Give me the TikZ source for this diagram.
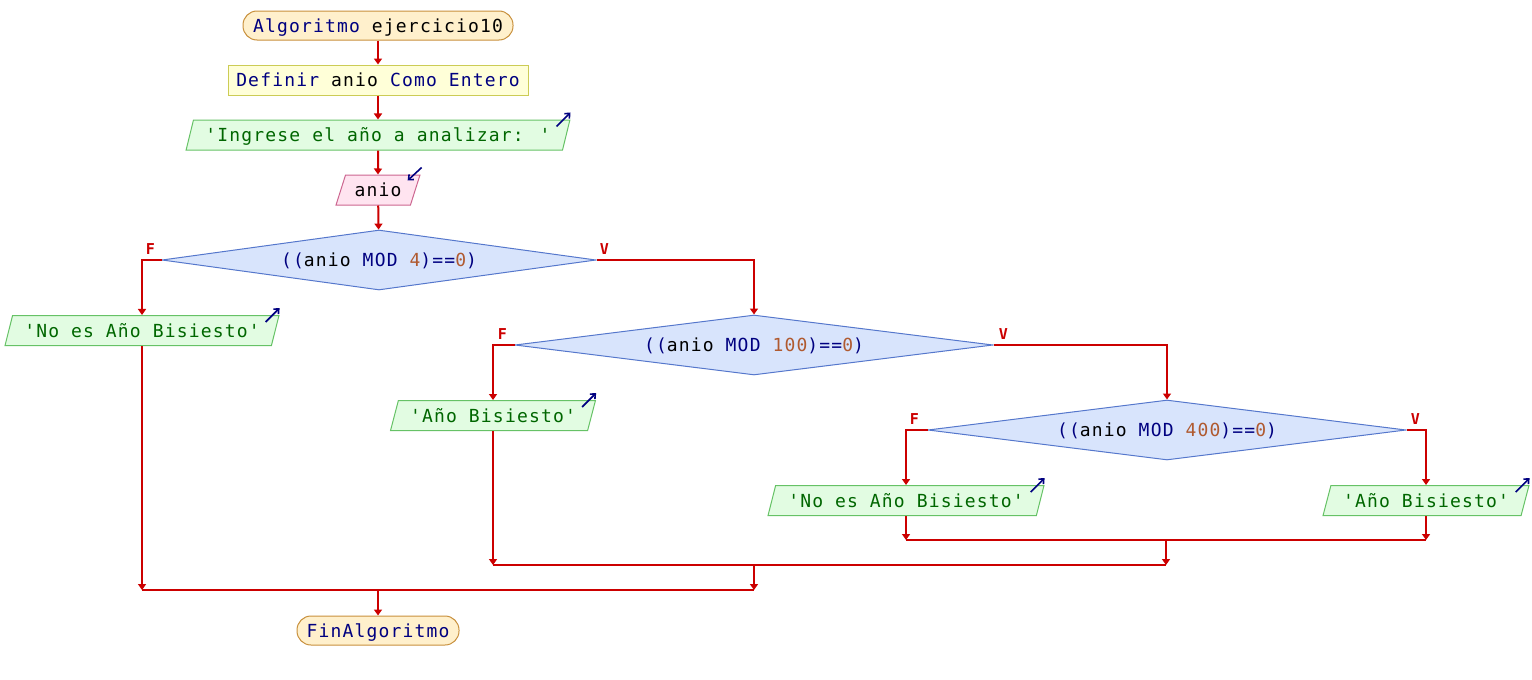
\documentclass[tikz,border=0pt]{standalone}
\usepackage{fontspec}
\usetikzlibrary{shapes.geometric,arrows.meta}
\newfontfamily\codefont[LetterSpace=6.5]{DejaVu Sans Mono}
\newfontfamily\tagfont{DejaVu Sans Mono}

\definecolor{kwblue}{HTML}{000080}
\definecolor{strgreen}{HTML}{006600}
\definecolor{numbrown}{HTML}{B05A30}
\definecolor{flowred}{HTML}{CC0000}
\definecolor{termfill}{HTML}{FFF0CC}
\definecolor{termdraw}{HTML}{C8903C}
\definecolor{deffill}{HTML}{FFFFD8}
\definecolor{defdraw}{HTML}{CCCC55}
\definecolor{outfill}{HTML}{E2FCE2}
\definecolor{outdraw}{HTML}{66C266}
\definecolor{infill}{HTML}{FFE4F0}
\definecolor{indraw}{HTML}{CC6690}
\definecolor{decfill}{HTML}{D8E4FC}
\definecolor{decdraw}{HTML}{5577CC}

\newcommand\kw[1]{\textcolor{kwblue}{#1}}
\newcommand\strtxt[1]{\textcolor{strgreen}{#1}}
\newcommand\numtxt[1]{\textcolor{numbrown}{#1}}

\tikzset{
  base/.style={font=\codefont\fontsize{18}{20}\selectfont, inner sep=0pt, line width=1pt,
    text height=15pt, text depth=2pt},
  term/.style={base, draw=termdraw, fill=termfill, rounded corners=14pt, minimum height=29pt},
  defbox/.style={base, draw=defdraw, fill=deffill, minimum height=30pt},
  io/.style={base, trapezium, trapezium left angle=68, trapezium right angle=112,
    trapezium stretches=true, minimum height=30pt},
  outbox/.style={io, draw=outdraw, fill=outfill},
  inbox/.style={io, draw=indraw, fill=infill},
  dec/.style={base, diamond, aspect=8, draw=decdraw, fill=decfill, minimum height=60pt},
  flow/.style={draw=flowred, line width=2pt, -{Triangle[width=8pt,length=6pt]}},
  mergeline/.style={draw=flowred, line width=2pt},
  tag/.style={text=flowred, font=\tagfont\bfseries\fontsize{15}{15}\selectfont, inner sep=0pt},
  icon/.style={draw=kwblue, line width=1.6pt, -{Straight Barb[width=7pt,length=4pt]}},
}

\begin{document}
\begin{tikzpicture}[x=1pt, y=-1pt]
\useasboundingbox (0,0) rectangle (1532,680);

% start, declaration, prompt and read
\node[term, minimum width=270pt] (start) at (378,25.5) {\kw{Algoritmo} ejercicio10};
\node[defbox, minimum width=300pt] (def) at (378,80) {\kw{Definir} anio \kw{Como Entero}};
\node[outbox, minimum width=385pt] (ask) at (378,135) {\strtxt{'Ingrese el año a analizar: '}};
\node[inbox, minimum width=84pt] (read) at (378,190) {anio};

% decisions
\node[dec, minimum width=434pt] (d1) at (379,260) {\kw{((}anio \kw{MOD} \numtxt{4}\kw{)==}\numtxt{0}\kw{)}};
\node[dec, minimum width=478pt] (d2) at (754,345) {\kw{((}anio \kw{MOD} \numtxt{100}\kw{)==}\numtxt{0}\kw{)}};
\node[dec, minimum width=478pt] (d3) at (1167,430) {\kw{((}anio \kw{MOD} \numtxt{400}\kw{)==}\numtxt{0}\kw{)}};

% results
\node[outbox, minimum width=275pt] (no1) at (142,330.5) {\strtxt{'No es Año Bisiesto'}};
\node[outbox, minimum width=205pt] (si2) at (493,415.5) {\strtxt{'Año Bisiesto'}};
\node[outbox, minimum width=277pt] (no3) at (906,500.5) {\strtxt{'No es Año Bisiesto'}};
\node[outbox, minimum width=206pt] (si3) at (1426,500.5) {\strtxt{'Año Bisiesto'}};

\node[term, minimum width=162pt] (fin) at (378,630.5) {\kw{FinAlgoritmo}};

% output / input markers
\foreach \n in {ask,no1,si2,no3,si3}
  \draw[icon] ([shift={(-14,7)}]\n.top right corner) -- ++(14,-14);
\draw[icon] ([shift={(1,-7)}]read.top right corner) -- ++(-14,13);

% branch labels
\node[tag] (f1) at ([shift={(-11,-11)}]d1.west) {F};
\node[tag] (v1) at ([shift={(8,-11)}]d1.east) {V};
\node[tag] (f2) at ([shift={(-12,-11)}]d2.west) {F};
\node[tag] (v2) at ([shift={(10,-11)}]d2.east) {V};
\node[tag] (f3) at ([shift={(-13,-11)}]d3.west) {F};
\node[tag] (v3) at ([shift={(9,-11)}]d3.east) {V};

% main sequence
\draw[flow] (start) -- (def);
\draw[flow] (def) -- (ask);
\draw[flow] (ask) -- (read);
\draw[flow] (read) -- (d1);

% branches
\draw[flow] (d1.west) -| (no1.north);
\draw[flow] (d1.east) -| (d2.north);
\draw[flow] (d2.west) -| (si2.north);
\draw[flow] (d2.east) -| (d3.north);
\draw[flow] (d3.west) -| (no3.north);
\draw[flow] (d3.east) -| (si3.north);

% merge points
\coordinate (m3) at (1166,540);
\coordinate (m2) at (754,565);
\coordinate (m1) at (378,590);

\draw[flow] (no3.south) -- (no3.south |- m3);
\draw[flow] (si3.south) -- (si3.south |- m3);
\draw[mergeline] (no3.south |- m3) -- (si3.south |- m3);
\draw[flow] (m3) -- (m3 |- m2);

\draw[flow] (si2.south) -- (si2.south |- m2);
\draw[mergeline] (si2.south |- m2) -- (m3 |- m2);
\draw[flow] (m2) -- (m2 |- m1);

\draw[flow] (no1.south) -- (no1.south |- m1);
\draw[mergeline] (no1.south |- m1) -- (m2 |- m1);
\draw[flow] (m1) -- (fin.north);
\end{tikzpicture}
\end{document}
